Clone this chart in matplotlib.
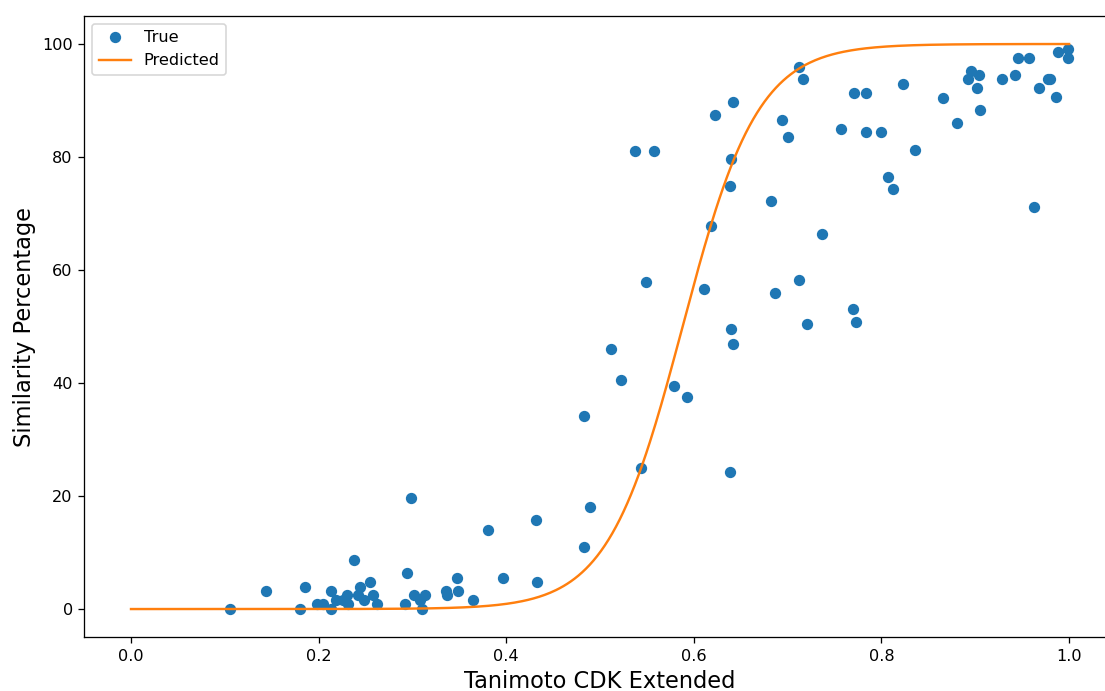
import numpy as np
import matplotlib
matplotlib.use("Agg")
import matplotlib.pyplot as plt

# True data points (Tanimoto CDK Extended vs Similarity Percentage)
true_x = [0.1055, 0.1436, 0.180, 0.185, 0.198, 0.205, 0.2129, 0.2135, 0.219, 0.226,
          0.230, 0.2317, 0.238, 0.242, 0.244, 0.248, 0.2548, 0.2577, 0.2626,
          0.292, 0.2946, 0.299, 0.3017, 0.308, 0.3106, 0.3134,
          0.336, 0.337, 0.348, 0.349, 0.365, 0.381, 0.397, 0.432, 0.433,
          0.483, 0.483, 0.489, 0.512, 0.522, 0.544, 0.537, 0.549, 0.558,
          0.579, 0.593, 0.611, 0.618, 0.623, 0.638, 0.639, 0.640, 0.640, 0.642, 0.642,
          0.682, 0.686, 0.694, 0.700, 0.712, 0.712, 0.716, 0.721, 0.737,
          0.757, 0.770, 0.771, 0.773, 0.783, 0.784, 0.800, 0.807, 0.812, 0.823, 0.836,
          0.866, 0.881, 0.892, 0.895, 0.902, 0.904, 0.905, 0.928, 0.942, 0.945, 0.957,
          0.963, 0.968, 0.977, 0.980, 0.986, 0.988, 0.999, 0.999]
true_y = [0.0, 3.2, 0.0, 3.9, 0.9, 0.9, 0.0, 3.2, 1.6, 1.6,
          2.5, 0.9, 8.7, 2.5, 3.9, 1.6, 4.7, 2.5, 0.9,
          0.9, 6.3, 19.6, 2.5, 1.6, 0.0, 2.5,
          3.2, 2.4, 5.5, 3.2, 1.6, 14.0, 5.5, 15.8, 4.7,
          34.1, 10.9, 18.0, 46.1, 40.6, 25.0, 81.1, 57.8, 81.1,
          39.4, 37.5, 56.7, 67.8, 87.4, 24.2, 74.8, 79.6, 49.6, 46.9, 89.7,
          72.2, 56.0, 86.6, 83.6, 96.0, 58.2, 93.8, 50.4, 66.4,
          85.0, 53.1, 91.4, 50.8, 84.4, 91.4, 84.4, 76.4, 74.3, 93.0, 81.3,
          90.5, 86.0, 93.8, 95.3, 92.2, 94.6, 88.3, 93.8, 94.6, 97.6, 97.6,
          71.1, 92.2, 93.8, 93.8, 90.6, 98.5, 99.2, 97.6]

# Predicted logistic fit (parameters)
pred_k = 24.9
pred_x0 = 0.588
pred_top = 100.0
pred_x = np.linspace(0.0, 1.0, 500)
pred_y = pred_top / (1.0 + np.exp(-pred_k * (pred_x - pred_x0)))

DPI = 116
fig = plt.figure(figsize=(1105 / DPI, 691 / DPI), dpi=DPI)
# the reference image is cropped on the right, so the axes extend past the figure edge
ax = fig.add_axes([84.1 / 1105, 1 - 637.3 / 691, (1116.0 - 84.1) / 1105, (637.3 - 15.75) / 691])
ax.plot(true_x, true_y, 'o', color='#1f77b4', label='True')
ax.plot(pred_x, pred_y, '-', color='#ff7f0e', label='Predicted')
ax.set_xlabel('Tanimoto CDK Extended', fontsize=14)
ax.set_ylabel('Similarity Percentage', fontsize=14)
ax.set_xlim(-0.05, 1.05)
ax.set_ylim(-5, 105)
ax.set_xticks([0.0, 0.2, 0.4, 0.6, 0.8, 1.0])
ax.set_yticks([0, 20, 40, 60, 80, 100])
ax.legend(loc='upper left')
fig.savefig('out.png', dpi=DPI)
